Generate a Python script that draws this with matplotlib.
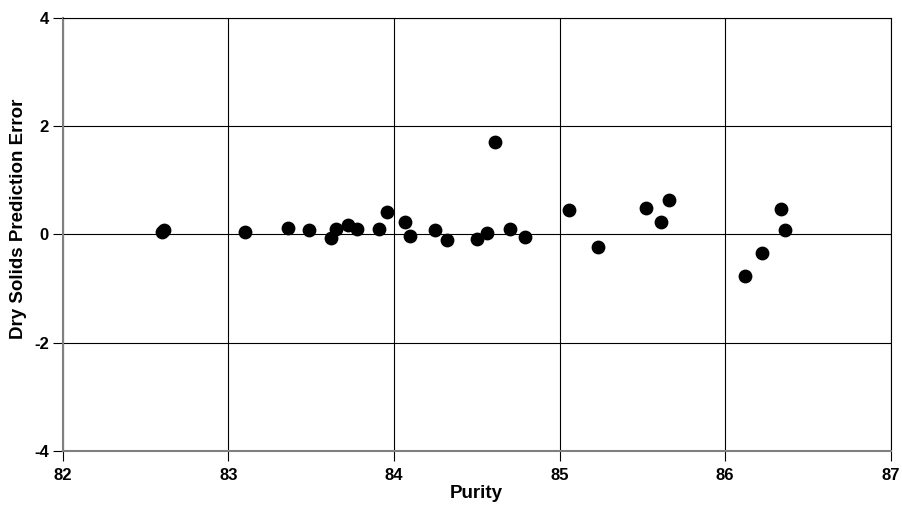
import matplotlib
matplotlib.use("Agg")
import matplotlib.pyplot as plt

purity = [82.60, 82.61, 83.10, 83.36, 83.49, 83.62, 83.65, 83.72, 83.78, 83.91,
          83.96, 84.07, 84.10, 84.25, 84.32, 84.50, 84.56, 84.61, 84.70, 84.79,
          85.06, 85.23, 85.52, 85.61, 85.66, 86.12, 86.22, 86.34, 86.36]
error = [0.04, 0.09, 0.05, 0.12, 0.08, -0.07, 0.11, 0.17, 0.11, 0.11,
         0.42, 0.24, -0.03, 0.09, -0.10, -0.08, 0.03, 1.70, 0.10, -0.05,
         0.45, -0.23, 0.49, 0.23, 0.64, -0.77, -0.35, 0.47, 0.08]

xticks = [82, 83, 84, 85, 86, 87]
yticks = [-4, -2, 0, 2, 4]

plt.rcParams['font.family'] = ['Liberation Sans', 'DejaVu Sans']
plt.rcParams['font.weight'] = 'bold'
plt.rcParams['axes.labelweight'] = 'bold'
plt.rcParams['axes.unicode_minus'] = False

fig = plt.figure(figsize=(9.02, 5.11), dpi=100)
ax = fig.add_axes([0.0695, 0.1174, 0.918, 0.8474])

ax.set_xlim(82, 87)
ax.set_ylim(-4, 4)
ax.set_xticks(xticks)
ax.set_yticks(yticks)
ax.grid(True, color='black', linewidth=0.8)
ax.set_axisbelow(True)

ax.scatter(purity, error, s=80, color='black', zorder=3, clip_on=False)

for side in ['left', 'bottom']:
    ax.spines[side].set_color('#808080')
    ax.spines[side].set_linewidth(1.5)
for side in ['top', 'right']:
    ax.spines[side].set_color('black')
    ax.spines[side].set_linewidth(0.8)

ax.tick_params(axis='both', direction='out', length=7, width=0.8, color='black',
               labelsize=12)
ax.tick_params(axis='x', pad=5)
ax.tick_params(axis='y', pad=3)

ax.set_xlabel('Purity', fontsize=13.5, labelpad=2)
ax.set_ylabel('Dry Solids Prediction Error', fontsize=13.5)
ax.yaxis.set_label_coords(-0.043, 0.536)

fig.savefig('out.png', dpi=100)
